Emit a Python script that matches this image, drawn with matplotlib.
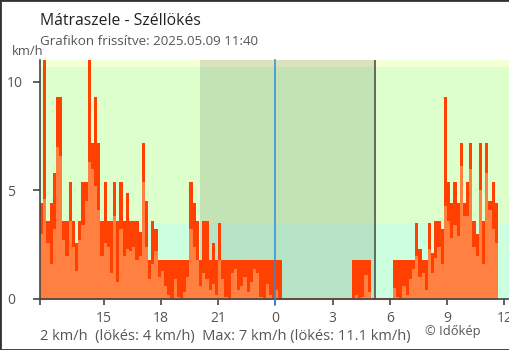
import numpy as np
import matplotlib.pyplot as plt
from matplotlib.patches import Rectangle

plt.rcParams['font.family'] = ['Open Sans', 'DejaVu Sans']

# 10 minute samples from 11:40 (hours since the first midnight)
start_hour = 11 + 40 / 60
step = 1 / 6

# wind gust, km/h
gust = [4.4, 11.1, 3.6, 4.4, 5.8, 9.3, 9.3, 3.6, 3.6, 5.4,
        3.6, 2.6, 3.6, 5.4, 5.4, 11.1, 7.2, 9.3, 7.2, 3.6,
        5.4, 3.6, 3.6, 5.4, 3.6, 5.4, 3.6, 4.9, 3.6, 3.6,
        3.6, 3.1, 7.2, 4.5, 1.8, 3.6, 3.2, 1.8, 1.8, 1.8,
        1.8, 1.8, 1.8, 1.8, 1.8, 1.8, 1.8, 5.4, 4.4, 3.6,
        1.8, 3.6, 3.6, 1.8, 2.6, 1.8, 3.5, 1.8, 1.8, 1.8,
        1.8, 1.8, 1.8, 1.8, 1.8, 1.8, 1.8, 1.8, 1.8, 1.8,
        1.8, 1.8, 1.8, 1.8, 1.8, 1.8, 0, 0, 0, 0,
        0, 0, 0, 0, 0, 0, 0, 0, 0, 0,
        0, 0, 0, 0, 0, 0, 0, 0, 1.8, 1.8,
        1.8, 1.8, 1.8, 1.8, 0, 0, 0, 0, 0, 0,
        0, 1.8, 1.8, 1.8, 1.8, 1.8, 1.8, 1.8, 3.5, 2.3,
        1.8, 1.8, 3.5, 2.1, 3.6, 3.6, 3.2, 9.3, 5.4, 4.4,
        5.4, 4.4, 7.2, 4.4, 5.4, 7.2, 3.6, 3.0, 7.2, 3.6,
        7.2, 4.5, 5.4, 4.4]

# average wind speed, km/h
wind = [3.0, 4.6, 2.6, 1.6, 3.2, 7.0, 6.6, 2.7, 2.0, 3.6,
        2.4, 1.3, 2.7, 3.4, 4.5, 6.3, 6.0, 5.2, 4.1, 2.0,
        2.6, 2.4, 1.2, 3.8, 0.8, 3.2, 2.0, 2.3, 2.2, 2.4,
        1.8, 2.0, 5.4, 2.4, 0.9, 1.6, 2.2, 1.0, 1.3, 0.6,
        0.2, 0.0, 0.9, 0.1, 0.0, 0.3, 1.0, 3.2, 2.4, 1.8,
        0.6, 1.2, 0.9, 0.4, 0.7, 0.2, 1.8, 0.9, 0.1, 0.0,
        1.2, 1.4, 0.4, 0.6, 1.0, 0.3, 0.8, 1.4, 1.2, 0.1,
        0.0, 0.7, 0.2, 0.0, 0.4, 0.0, 0, 0, 0, 0,
        0, 0, 0, 0, 0, 0, 0, 0, 0, 0,
        0, 0, 0, 0, 0, 0, 0, 0, 0.0, 0.2,
        0.0, 0.1, 1.1, 0.3, 0, 0, 0, 0, 0, 0,
        0, 0.5, 0.1, 0.0, 0.6, 0.2, 0.9, 1.4, 2.0, 1.0,
        1.2, 0.4, 2.3, 1.2, 1.9, 2.4, 1.6, 4.3, 3.6, 2.8,
        3.4, 2.9, 6.1, 3.8, 3.8, 6.0, 2.4, 2.0, 5.0, 1.6,
        5.8, 4.1, 3.2, 2.6]

xtick_pos = [start_hour, 15, 18, 21, 24, 27, 30, 33, 36]
xtick_labels = ['', '15', '18', '21', '0', '3', '6', '9', '12']
ytick_pos = [0, 5, 10]

sunset = 20.07
sunrise = 29.22

t = start_hour + step * np.arange(len(gust))
t_end = start_hour + step * len(gust)

fig = plt.figure(figsize=(5.1, 3.5), dpi=100)
ax = fig.add_axes([40 / 510, 1 - 299 / 350, 469 / 510, 239 / 350])

# background bands
ax.axhspan(0, 3.5, color='#ccffdd', lw=0, zorder=0)
ax.axhspan(3.5, 10.7, color='#ddffcc', lw=0, zorder=0)
ax.axhspan(10.7, 12, color='#f3ffd5', lw=0, zorder=0)
ax.axvspan(sunset, sunrise, color='black', alpha=0.11, lw=0, zorder=0.5)

ax.bar(t, gust, width=step, align='edge', color='#ff4000', lw=0, zorder=2)
ax.bar(t, wind, width=step, align='edge', color='#ff8040', lw=0, zorder=2.1)
ax.plot([start_hour, t_end], [0, 0], color='#ff8040', lw=1.5, zorder=2.2,
        clip_on=False, solid_capstyle='butt')

ax.axvline(sunrise, color='#444444', lw=1.1, zorder=3)
ax.axvline(24, ymin=-0.025, ymax=1, color='#2b8fd8', lw=1.1, zorder=3,
           clip_on=False)

ax.set_xlim(start_hour, 36.25)
ax.set_ylim(0, 11)

for side in ['top', 'right']:
    ax.spines[side].set_visible(False)
for side in ['left', 'bottom']:
    ax.spines[side].set_color('#444444')
    ax.spines[side].set_linewidth(1.2)

ax.set_xticks(xtick_pos)
ax.set_xticklabels(xtick_labels)
ax.set_yticks(ytick_pos)
ax.set_yticklabels([str(v) for v in ytick_pos])
ax.tick_params(axis='x', length=4.5, width=1.2, color='#444444',
               labelcolor='#555555', labelsize=10, pad=4)
ax.tick_params(axis='y', length=5, width=1.2, color='#444444',
               labelcolor='#555555', labelsize=10, pad=18.7)
for lab in ax.get_yticklabels():
    lab.set_horizontalalignment('left')

def px_text(x, y, s, **kw):
    fig.text(x / 510, 1 - y / 350, s, va='baseline', **kw)

px_text(40, 25, 'Mátraszele - Széllökés', fontsize=11.3, color='#222222')
px_text(40, 45, 'Grafikon frissítve: 2025.05.09 11:40', fontsize=9.6,
        color='#555555')
px_text(12, 55, 'km/h', fontsize=9.3, color='#555555')
px_text(40, 340, '2 km/h  (lökés: 4 km/h)  Max: 7 km/h (lökés: 11.1 km/h)',
        fontsize=10.5, color='#555555')
px_text(425, 335, '© Időkép', fontsize=9.3, color='#555555')

fig.patches.append(Rectangle((0, 0), 1, 1, transform=fig.transFigure,
                             fill=False, edgecolor='#333333', lw=2))

fig.savefig('out.png', dpi=100)
